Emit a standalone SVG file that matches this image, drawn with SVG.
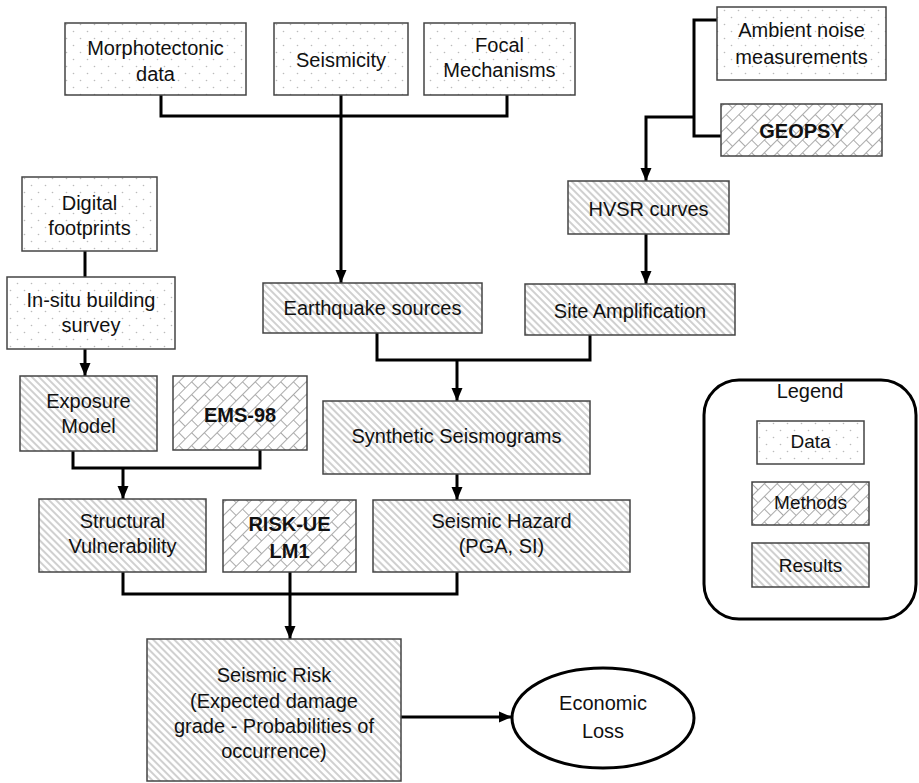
<svg xmlns="http://www.w3.org/2000/svg" width="919" height="783" viewBox="0 0 919 783">
<style>
text{font-family:"Liberation Sans",Arial,sans-serif;font-size:20px;fill:#111;text-anchor:middle}
.b{font-weight:bold}
.l{font-size:19px}
.data{fill:url(#dots);stroke:#444;stroke-width:1.5}
.meth{fill:url(#brick);stroke:#444;stroke-width:1.5}
.res{fill:url(#hatch);stroke:#444;stroke-width:1.5}
.c{fill:none;stroke:#000;stroke-width:3}
.a{marker-end:url(#arr)}
</style>
<defs>
<pattern id="dots" width="14" height="14" patternUnits="userSpaceOnUse">
<rect width="14" height="14" fill="#fff"/>
<circle cx="3.5" cy="3.5" r="0.8" fill="#bbb"/>
<circle cx="10.5" cy="10.5" r="0.8" fill="#bbb"/>
</pattern>
<pattern id="hatch" width="5" height="5" patternUnits="userSpaceOnUse" patternTransform="rotate(-45)">
<rect width="5" height="5" fill="#fff"/>
<line x1="1" y1="0" x2="1" y2="5" stroke="#aaa" stroke-width="1.1"/>
</pattern>
<pattern id="brick" width="18" height="18" patternUnits="userSpaceOnUse" patternTransform="rotate(-45)">
<rect width="18" height="18" fill="#fff"/>
<path d="M0 0.5H18M0 9.5H18M0.5 0.5V9.5M9.5 9.5V18" stroke="#aaa" stroke-width="1" fill="none"/>
</pattern>
<marker id="arr" markerUnits="userSpaceOnUse" markerWidth="14" markerHeight="14" viewBox="0 0 14 14" refX="13" refY="7" orient="auto">
<path d="M0 1.5L13 7L0 12.5Z" fill="#000"/>
</marker>
</defs>

<g id="connectors">
<path class="c" d="M161 95V116H507V95"/>
<path class="c a" d="M341 95V283"/>
<path class="c" d="M717 20H694V136H721"/>
<path class="c a" d="M694 117H646V181"/>
<path class="c a" d="M646 234V284"/>
<path class="c" d="M85 251V277"/>
<path class="c a" d="M85 349V376"/>
<path class="c" d="M377 333V360H590V335"/>
<path class="c a" d="M457 360V401"/>
<path class="c a" d="M457 474V500"/>
<path class="c" d="M73 451V468H260V450"/>
<path class="c a" d="M123 468V499"/>
<path class="c" d="M123 572V594H457V572"/>
<path class="c a" d="M290 572V639"/>
<path class="c a" d="M401 717H512"/>
</g>

<g id="morphotectonic"><rect class="data" x="65" y="23" width="181" height="72"/><text x="155.5" y="55">Morphotectonic</text><text x="155.5" y="81">data</text></g>
<g id="seismicity"><rect class="data" x="274" y="23" width="134" height="72"/><text x="341" y="67">Seismicity</text></g>
<g id="focal"><rect class="data" x="424" y="23" width="151" height="72"/><text x="499.5" y="52">Focal</text><text x="499.5" y="77">Mechanisms</text></g>
<g id="ambient"><rect class="data" x="717" y="7" width="169" height="73"/><text x="801.5" y="37">Ambient noise</text><text x="801.5" y="64">measurements</text></g>
<g id="geopsy"><rect class="meth" x="721" y="104" width="161" height="52"/><text class="b" x="801.5" y="138">GEOPSY</text></g>
<g id="hvsr"><rect class="res" x="568" y="181" width="161" height="53"/><text x="648.5" y="216">HVSR curves</text></g>
<g id="digital"><rect class="data" x="22" y="177" width="135" height="74"/><text x="89.5" y="210">Digital</text><text x="89.5" y="235">footprints</text></g>
<g id="insitu"><rect class="data" x="7" y="277" width="168" height="72"/><text x="91" y="307">In-situ building</text><text x="91" y="332">survey</text></g>
<g id="earthquake"><rect class="res" x="263" y="283" width="219" height="50"/><text x="372.5" y="315">Earthquake sources</text></g>
<g id="site"><rect class="res" x="525" y="284" width="210" height="51"/><text x="630" y="318">Site Amplification</text></g>
<g id="exposure"><rect class="res" x="20" y="376" width="137" height="75"/><text x="88.5" y="408">Exposure</text><text x="88.5" y="433">Model</text></g>
<g id="ems98"><rect class="meth" x="173" y="376" width="134" height="74"/><text class="b" x="240" y="422">EMS-98</text></g>
<g id="synthetic"><rect class="res" x="323" y="401" width="267" height="73"/><text x="456.5" y="443">Synthetic Seismograms</text></g>
<g id="structural"><rect class="res" x="39" y="499" width="167" height="73"/><text x="122.5" y="528">Structural</text><text x="122.5" y="553">Vulnerability</text></g>
<g id="riskue"><rect class="meth" x="223" y="500" width="133" height="72"/><text class="b" x="289.5" y="531">RISK-UE</text><text class="b" x="289.5" y="558">LM1</text></g>
<g id="hazard"><rect class="res" x="373" y="500" width="257" height="72"/><text x="501.5" y="528">Seismic Hazard</text><text x="501.5" y="553">(PGA, SI)</text></g>
<g id="risk"><rect class="res" x="147" y="639" width="254" height="142"/><text x="274" y="682">Seismic Risk</text><text x="274" y="708">(Expected damage</text><text x="274" y="733">grade - Probabilities of</text><text x="274" y="758">occurrence)</text></g>
<g id="economic"><ellipse cx="603" cy="718" rx="91" ry="50" fill="#fff" stroke="#000" stroke-width="3"/><text x="603" y="710">Economic</text><text x="603" y="738">Loss</text></g>

<g id="legend">
<rect x="704" y="380" width="212" height="239" rx="35" fill="#fff" stroke="#000" stroke-width="3"/>
<text x="810" y="398">Legend</text>
<rect class="data" x="757" y="421" width="107" height="43"/><text class="l" x="810.5" y="448">Data</text>
<rect class="meth" x="752" y="482" width="117" height="43"/><text class="l" x="810.5" y="509">Methods</text>
<rect class="res" x="752" y="543" width="117" height="44"/><text class="l" x="810.5" y="572">Results</text>
</g>
</svg>
